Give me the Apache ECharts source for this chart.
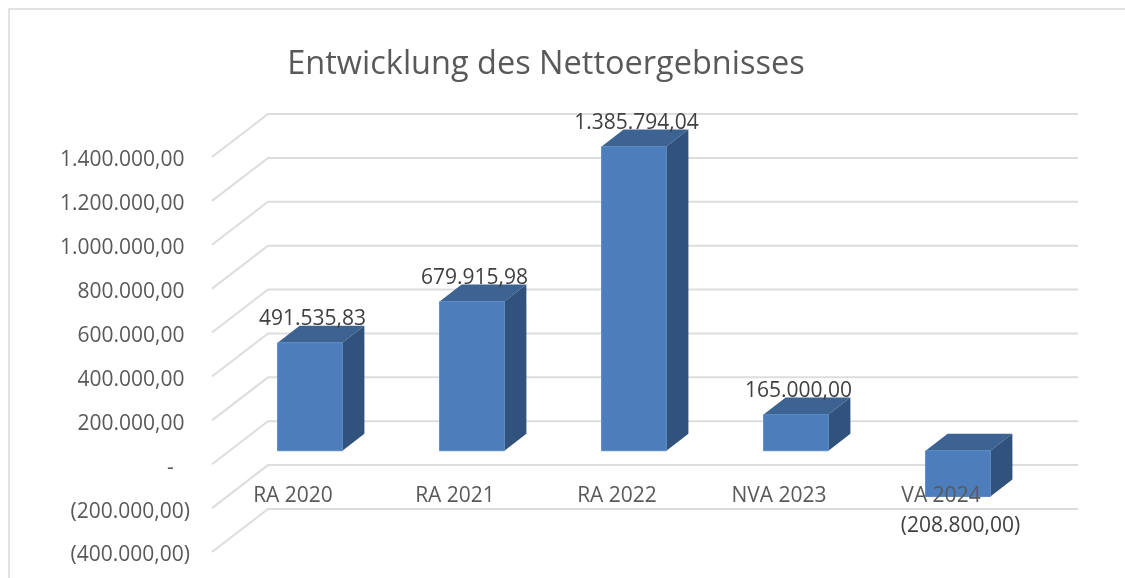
<!DOCTYPE html>
<html>
<head>
<meta charset="utf-8">
<style>
html, body { margin: 0; padding: 0; background: #fff; }
#chart { width: 1125px; height: 578px; }
</style>
<script src="https://cdn.jsdelivr.net/npm/echarts@6/dist/echarts.min.js"></script>
</head>
<body>
<div id="chart"></div>
<script>
const categories = ['RA 2020', 'RA 2021', 'RA 2022', 'NVA 2023', 'VA 2024'];
const values = [491535.83, 679915.98, 1385794.04, 165000, -208800];
const yTicks = [-400000, -200000, 0, 200000, 400000, 600000, 800000, 1000000, 1200000, 1400000];

const FONT = '"Open Sans", sans-serif';
const WALL_DX = 56, WALL_DY = -43;   // side wall depth
const BAR_DX = 17, BAR_DY = -13.5;   // bars stand a little inside the floor
const DEPTH_DX = 22, DEPTH_DY = -17;

// 1.234.567,89 with brackets for negatives
function fmt(v) {
    const s = Math.abs(v).toLocaleString('de-DE', { minimumFractionDigits: 2, maximumFractionDigits: 2 });
    return v < 0 ? '(' + s + ')' : s;
}

function renderWall(params, api) {
    const cs = params.coordSys;
    const y = api.coord([0, api.value(0)])[1];
    const x0 = cs.x, x1 = cs.x + WALL_DX, x2 = x1 + cs.width;
    return {
        type: 'polyline',
        shape: { points: [[x0, y], [x1, y + WALL_DY], [x2, y + WALL_DY]] },
        style: { stroke: '#dddddd', lineWidth: 2, fill: null }
    };
}

function renderBar(params, api) {
    const idx = api.value(0), val = api.value(1);
    const top = api.coord([idx, Math.max(val, 0)]);
    const bottom = api.coord([idx, Math.min(val, 0)]);
    const w = api.size([1, 0])[0] * 0.4;
    const l = top[0] + BAR_DX - w / 2, r = l + w;
    const t = top[1] + BAR_DY, b = bottom[1] + BAR_DY;
    const dx = DEPTH_DX, dy = DEPTH_DY;
    const textY = val < 0 ? b + 29 : t - 23.5;
    return {
        type: 'group',
        children: [
            { type: 'polygon', shape: { points: [[l, t], [r, t], [r + dx, t + dy], [l + dx, t + dy]] },
              style: { fill: '#3c6391' } },
            { type: 'polygon', shape: { points: [[r, t], [r + dx, t + dy], [r + dx, b + dy], [r, b]] },
              style: { fill: '#30527c' } },
            { type: 'rect', shape: { x: l, y: t, width: w, height: b - t },
              style: { fill: '#4d7ebb', stroke: '#5a8ac4', lineWidth: 1 } },
            { type: 'text', style: { x: (l + r) / 2 + 2.5, y: textY, text: fmt(val), align: 'center', verticalAlign: 'middle',
              font: '21px ' + FONT, fill: '#404040' }, z2: 10 }
        ]
    };
}

const chart = echarts.init(document.getElementById('chart'), null, { renderer: 'canvas' });
chart.setOption({
    animation: false,
    backgroundColor: '#fff',
    title: {
        text: 'Entwicklung des Nettoergebnisses',
        left: 541,
        top: 43,
        textAlign: 'center',
        textStyle: { fontFamily: FONT, fontSize: 32.5, fontWeight: 'normal', color: '#595959' }
    },
    graphic: [
        { type: 'polyline', silent: true, shape: { points: [[9, 578], [9, 9], [1125, 9]] },
          style: { stroke: '#d9d9d9', lineWidth: 1.5, fill: null } }
    ],
    grid: { left: 212, top: 157, width: 810, height: 395, outerBoundsMode: 'none' },
    xAxis: {
        type: 'category',
        data: categories,
        z: 5,
        axisLine: { show: false },
        axisTick: { show: false },
        // labels sit just under the zero line, not at the bottom of the plot
        axisLabel: { margin: -66, fontFamily: FONT, fontSize: 21, color: '#595959' }
    },
    yAxis: {
        type: 'value',
        min: -400000,
        max: 1400000,
        interval: 200000,
        axisLine: { show: false },
        axisTick: { show: false },
        splitLine: { show: false },
        axisLabel: {
            margin: 22,
            verticalAlign: 'top',
            lineHeight: 7,
            fontFamily: FONT,
            fontSize: 21,
            color: '#595959',
            formatter: function (v) {
                if (v === 0) return '-\u00a0\u00a0\u00a0';
                return v < 0 ? fmt(v) : fmt(v) + '\u00a0';
            }
        }
    },
    series: [
        { type: 'custom', z: 1, silent: true, renderItem: renderWall, data: yTicks.map(v => [v]), encode: { y: 0 }, clip: false },
        { type: 'custom', z: 2, silent: true, renderItem: renderBar, data: values.map((v, i) => [i, v]), encode: { x: 0, y: 1 }, clip: false }
    ]
});
</script>
</body>
</html>
